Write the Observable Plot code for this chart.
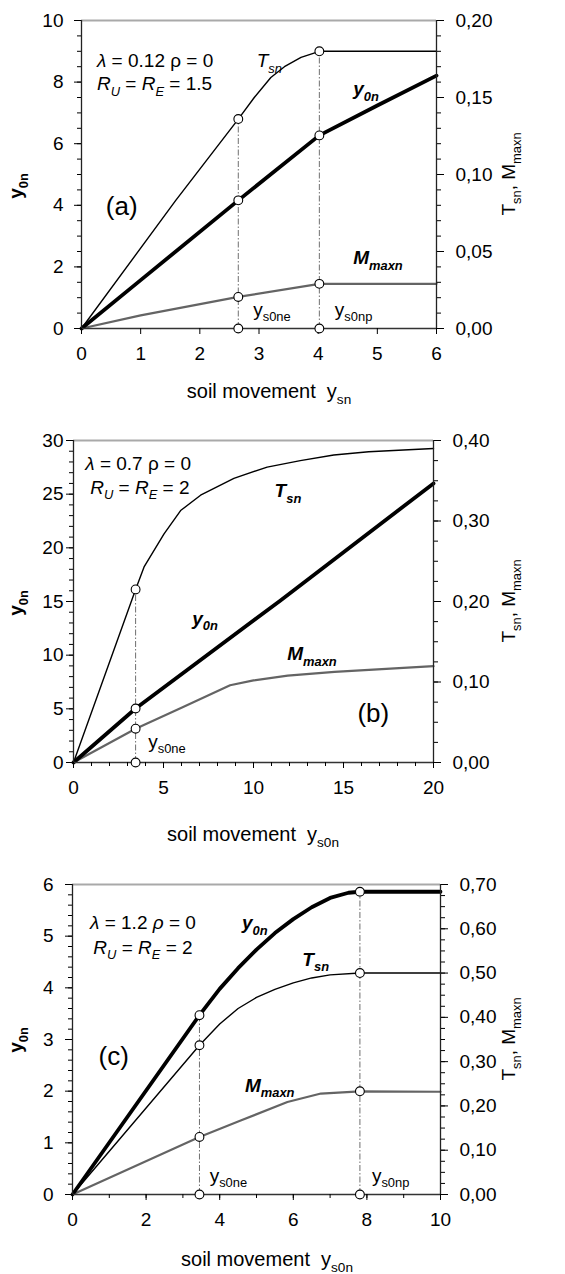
<!DOCTYPE html>
<html>
<head>
<meta charset="utf-8">
<script src="https://cdn.jsdelivr.net/npm/d3@7"></script>
<script src="https://cdn.jsdelivr.net/npm/@observablehq/plot@0.6"></script>
<style>
  body { margin: 0; background: #fff; }
  #page { position: relative; width: 565px; height: 1274px; overflow: hidden; background: #fff; }
  .panel { position: absolute; left: 0; }
  .panel svg text { white-space: pre; }
</style>
</head>
<body>
<div id="page"></div>
<script>
// ---------- data: [soil movement, value] ----------
// (a) λ = 0.12, ρ = 0, RU = RE = 1.5
const aY0n  = [[0, 0], [1, 1.57], [2.65, 4.16], [4.02, 6.27], [5, 7.24], [6, 8.21]];
const aTsn  = [[0, 0], [1.59, 0.083], [2.65, 0.136], [2.92, 0.150], [3.20, 0.163], [3.43, 0.170], [3.71, 0.176], [4.02, 0.180], [6, 0.180]];
const aMmax = [[0, 0], [1, 0.0085], [2.65, 0.0205], [4.02, 0.029], [6, 0.029]];
const aEvents = [2.65, 4.02];

// (b) λ = 0.7, ρ = 0, RU = RE = 2
const bY0n  = [[0, 0], [3.45, 5.03], [11.5, 15.1], [20, 26.0]];
const bTsn  = [[0, 0], [3.45, 0.215], [3.92, 0.243], [5.03, 0.284], [5.95, 0.313], [7.06, 0.332], [8.91, 0.353], [10.76, 0.367], [12.6, 0.375], [14.46, 0.382], [16.4, 0.386], [20, 0.390]];
const bMmax = [[0, 0], [3.45, 0.042], [6, 0.068], [8.7, 0.096], [10, 0.102], [11.9, 0.108], [14.5, 0.1125], [20, 0.1196]];
const bEvents = [3.45];

// (c) λ = 1.2, ρ = 0, RU = RE = 2
const cY0n  = [[0, 0], [3.45, 3.47], [4.0, 3.98], [4.5, 4.38], [5.0, 4.74], [5.5, 5.06], [6.0, 5.33], [6.5, 5.56], [7.0, 5.74], [7.5, 5.84], [7.81, 5.86], [10, 5.86]];
const cTsn  = [[0, 0], [3.45, 0.337], [4.0, 0.385], [4.5, 0.420], [5.0, 0.445], [5.5, 0.463], [6.0, 0.478], [6.5, 0.489], [7.0, 0.496], [7.81, 0.500], [10, 0.500]];
const cMmax = [[0, 0], [3.45, 0.130], [4.57, 0.167], [5.84, 0.209], [6.75, 0.228], [7.81, 0.233], [10, 0.232]];
const cEvents = [3.45, 7.81];

// ---------- tick labels ----------
const aXTicks = [0, 1, 2, 3, 4, 5, 6];
const aYTicks = [0, 2, 4, 6, 8, 10];
const aRTicks = [0, 0.05, 0.10, 0.15, 0.20];
const bXTicks = [0, 5, 10, 15, 20];
const bYTicks = [0, 5, 10, 15, 20, 25, 30];
const bRTicks = [0, 0.10, 0.20, 0.30, 0.40];
const cXTicks = [0, 2, 4, 6, 8, 10];
const cYTicks = [0, 1, 2, 3, 4, 5, 6];
const cRTicks = [0, 0.10, 0.20, 0.30, 0.40, 0.50, 0.60, 0.70];

const FONT = "'Liberation Sans', Arial, Helvetica, sans-serif";
const TICK_FONT = 19;

// text with sub/italic runs: parts = [[string, flags]], flags may contain "sub" and/or "it"
function rich(svg, parts, {x, y, size = 19, anchor = "start", rotate = 0, weight = "normal", italic = false, fill = "#000"}) {
  const t = d3.select(svg).append("text")
    .attr("transform", `translate(${x},${y})` + (rotate ? ` rotate(${rotate})` : ""))
    .attr("text-anchor", anchor)
    .attr("font-family", FONT)
    .attr("font-size", size)
    .attr("font-weight", weight)
    .attr("font-style", italic ? "italic" : "normal")
    .attr("fill", fill);
  let shift = 0;
  for (const [s, flags = ""] of parts) {
    const sub = flags.includes("sub");
    const target = sub ? size * 0.3 : 0;
    const ts = t.append("tspan").text(s).attr("dy", target - shift);
    if (sub) ts.attr("font-size", size * 0.68);
    if (flags.includes("it")) ts.attr("font-style", "italic");
    shift = target;
  }
}

const valueAt = (pts, x) => pts.find(p => p[0] === x)[1];

function panel(cfg) {
  const k = cfg.k; // right-axis units per left-axis unit
  const y0n = cfg.y0n.map(([x, v]) => ({x, y: v}));
  const tsn = cfg.tsn.map(([x, v]) => ({x, y: v / k}));
  const mmax = cfg.mmax.map(([x, v]) => ({x, y: v / k}));

  const dots = [], guides = [];
  for (const e of cfg.events) {
    const ys = [valueAt(cfg.y0n, e), valueAt(cfg.tsn, e) / k, valueAt(cfg.mmax, e) / k, 0];
    ys.forEach(y => dots.push({x: e, y}));
    guides.push({x: e, y1: 0, y2: Math.max(...ys)});
  }

  const m = cfg.margin;
  const svg = Plot.plot({
    width: 565,
    height: cfg.height,
    marginTop: m.top, marginRight: m.right, marginBottom: m.bottom, marginLeft: m.left,
    x: {domain: [0, cfg.xMax]},
    y: {domain: [0, cfg.yMax]},
    style: {fontFamily: FONT, fontSize: TICK_FONT + "px", color: "#000", background: "transparent", overflow: "visible"},
    marks: [
      Plot.ruleY([cfg.yMax], {stroke: "#a9a9a9", strokeWidth: 2}),
      Plot.ruleX(guides, {x: "x", y1: "y1", y2: "y2", stroke: "#6f6f6f", strokeWidth: 1, strokeDasharray: "6,2,1.5,2"}),
      Plot.line(mmax, {x: "x", y: "y", stroke: "#646464", strokeWidth: 2.2}),
      Plot.line(tsn, {x: "x", y: "y", stroke: "#000", strokeWidth: 1.4}),
      Plot.line(y0n, {x: "x", y: "y", stroke: "#000", strokeWidth: 3.8}),
      Plot.ruleX([0], {stroke: "#222", strokeWidth: 1.3}),
      Plot.ruleX([cfg.xMax], {stroke: "#222", strokeWidth: 1.3}),
      Plot.ruleY([0], {stroke: "#333", strokeWidth: 1.5}),
      Plot.axisX(cfg.xTicks, {anchor: "bottom", tickSize: 6, tickPadding: 12, fontSize: TICK_FONT, label: null, tickFormat: d => String(d)}),
      Plot.axisX(cfg.xMinor, {anchor: "bottom", tickSize: 4, tickFormat: () => "", label: null}),
      Plot.axisY(cfg.yTicks, {anchor: "left", tickSize: 7, tickPadding: cfg.leftPad, fontSize: TICK_FONT, label: null, tickFormat: d => String(d)}),
      Plot.axisY(cfg.yMinor, {anchor: "left", tickSize: 4, tickFormat: () => "", label: null}),
      Plot.axisY(cfg.rTicks.map(v => v / k), {anchor: "right", tickSize: 7, tickPadding: 12, fontSize: TICK_FONT, label: null,
        tickFormat: v => (v * k).toFixed(2).replace(".", ",")}),
      Plot.axisY(cfg.rMinor.map(v => v / k), {anchor: "right", tickSize: 4, tickFormat: () => "", label: null}),
      Plot.dot(dots, {x: "x", y: "y", r: 4.4, fill: "#fff", stroke: "#000", strokeWidth: 1.1})
    ]
  });

  const sx = svg.scale("x"), sy = svg.scale("y");
  const midY = (sy.apply(0) + sy.apply(cfg.yMax)) / 2;

  // axis titles
  rich(svg, [["y"], ["0n", "sub"]], {x: 22, y: midY + cfg.leftShift, anchor: "middle", rotate: -90, weight: "bold", size: 19});
  rich(svg, [["T"], ["sn", "sub"], [", M"], ["maxn", "sub"]], {x: 515, y: midY, anchor: "middle", rotate: -90, size: 19});
  rich(svg, [["soil movement  y"], [cfg.xSub, "sub"]], {x: cfg.xLabelX, y: cfg.xLabelY, anchor: "middle", size: 20});

  // annotations
  for (const n of cfg.notes) {
    rich(svg, n.parts, {x: sx.apply(n.x), y: sy.apply(n.y), size: n.size || 19, weight: n.weight || "normal", italic: !!n.italic});
  }

  const wrap = document.createElement("div");
  wrap.className = "panel";
  wrap.style.top = cfg.top + "px";
  wrap.appendChild(svg);
  document.getElementById("page").appendChild(wrap);
}

panel({
  top: 0, height: 420, margin: {top: 20, right: 129, bottom: 92, left: 81},
  xMax: 6, yMax: 10, k: 0.02,
  y0n: aY0n, tsn: aTsn, mmax: aMmax, events: aEvents,
  xTicks: aXTicks, xMinor: [], yTicks: aYTicks, yMinor: d3.range(0, 10.01, 0.5),
  rTicks: aRTicks, rMinor: d3.range(0, 0.2001, 0.01),
  leftPad: 11, leftShift: 12, xSub: "sn", xLabelX: 269, xLabelY: 398,
  notes: [
    {x: 0.27, y: 8.47, parts: [["λ", "it"], [" = 0.12 ρ = 0"]]},
    {x: 0.27, y: 7.73, parts: [["R", "it"], ["U", "subit"], [" = "], ["R", "it"], ["E", "subit"], [" = 1.5"]]},
    {x: 2.97, y: 8.47, italic: true, parts: [["T"], ["sn", "sub"]]},
    {x: 4.60, y: 7.56, italic: true, weight: "bold", parts: [["y"], ["0n", "sub"]]},
    {x: 4.60, y: 2.08, italic: true, weight: "bold", parts: [["M"], ["maxn", "sub"]]},
    {x: 0.42, y: 3.67, size: 26, parts: [["(a)"]]},
    {x: 2.91, y: 0.40, parts: [["y"], ["s0ne", "sub"]]},
    {x: 4.29, y: 0.40, parts: [["y"], ["s0np", "sub"]]}
  ]
});

panel({
  top: 420, height: 425, margin: {top: 20, right: 132, bottom: 83, left: 73},
  xMax: 20, yMax: 30, k: 0.4 / 30,
  y0n: bY0n, tsn: bTsn, mmax: bMmax, events: bEvents,
  xTicks: bXTicks, xMinor: d3.range(0, 20.01, 1), yTicks: bYTicks, yMinor: d3.range(0, 30.01, 1),
  rTicks: bRTicks, rMinor: d3.range(0, 0.4001, 0.025),
  leftPad: 3, leftShift: 2, xSub: "s0n", xLabelX: 253, xLabelY: 421,
  notes: [
    {x: 0.68, y: 27.2, parts: [["λ", "it"], [" = 0.7 ρ = 0"]]},
    {x: 0.96, y: 25.0, parts: [["R", "it"], ["U", "subit"], [" = "], ["R", "it"], ["E", "subit"], [" = 2"]]},
    {x: 11.2, y: 24.7, italic: true, weight: "bold", parts: [["T"], ["sn", "sub"]]},
    {x: 6.62, y: 12.8, italic: true, weight: "bold", parts: [["y"], ["0n", "sub"]]},
    {x: 11.9, y: 9.5, italic: true, weight: "bold", parts: [["M"], ["maxn", "sub"]]},
    {x: 15.8, y: 3.75, size: 26, parts: [["(b)"]]},
    {x: 4.18, y: 1.33, parts: [["y"], ["s0ne", "sub"]]}
  ]
});

panel({
  top: 845, height: 429, margin: {top: 39, right: 125, bottom: 80, left: 72},
  xMax: 10, yMax: 6, k: 0.7 / 6,
  y0n: cY0n, tsn: cTsn, mmax: cMmax, events: cEvents,
  xTicks: cXTicks, xMinor: d3.range(0, 10.01, 1), yTicks: cYTicks, yMinor: d3.range(0, 6.001, 0.2),
  rTicks: cRTicks, rMinor: d3.range(0, 0.7001, 0.025),
  leftPad: 12, leftShift: 1, xSub: "s0n", xLabelX: 267, xLabelY: 421,
  notes: [
    {x: 0.49, y: 5.12, parts: [["λ", "it"], [" = 1.2 "], ["ρ", "it"], [" = 0"]]},
    {x: 0.58, y: 4.65, parts: [["R", "it"], ["U", "subit"], [" = "], ["R", "it"], ["E", "subit"], [" = 2"]]},
    {x: 4.62, y: 5.12, italic: true, weight: "bold", parts: [["y"], ["0n", "sub"]]},
    {x: 6.26, y: 4.42, italic: true, weight: "bold", parts: [["T"], ["sn", "sub"]]},
    {x: 4.70, y: 1.98, italic: true, weight: "bold", parts: [["M"], ["maxn", "sub"]]},
    {x: 0.72, y: 2.5, size: 26, parts: [["(c)"]]},
    {x: 3.74, y: 0.24, parts: [["y"], ["s0ne", "sub"]]},
    {x: 8.15, y: 0.24, parts: [["y"], ["s0np", "sub"]]}
  ]
});
</script>
</body>
</html>
